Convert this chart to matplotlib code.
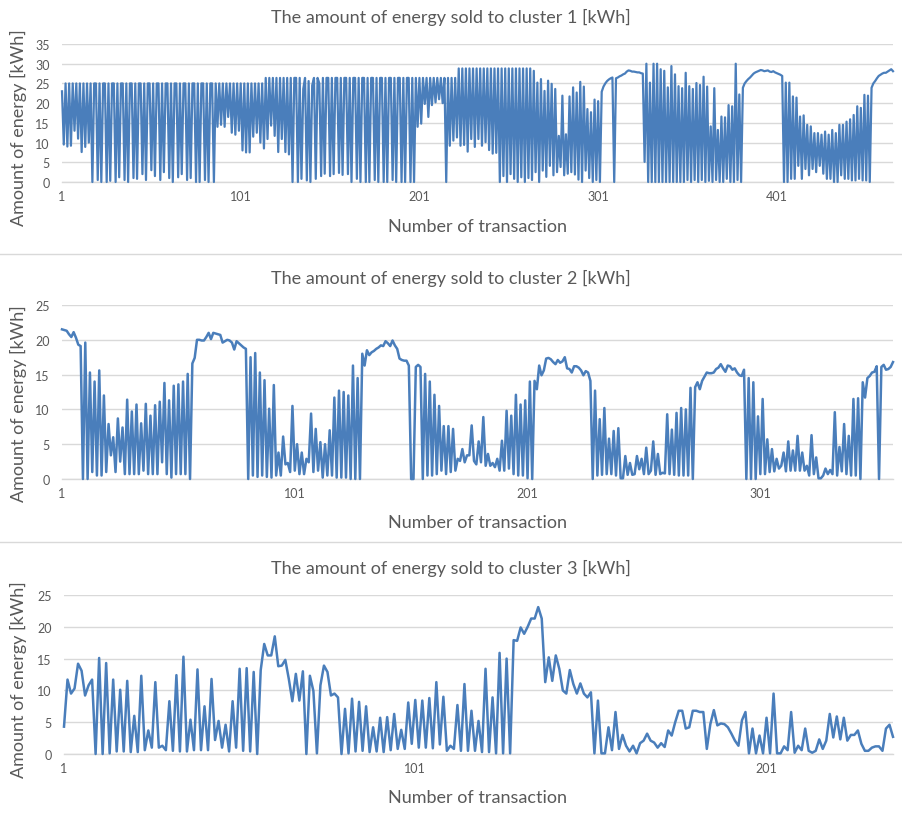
import matplotlib
matplotlib.use("Agg")
import matplotlib.pyplot as plt
from matplotlib.lines import Line2D
import numpy as np

plt.rcParams['font.family'] = ['Lato', 'DejaVu Sans']

titles = ["The amount of energy sold to cluster 1 [kWh]",
          "The amount of energy sold to cluster 2 [kWh]",
          "The amount of energy sold to cluster 3 [kWh]"]
xlabel = "Number of transaction"
ylabel = "Amount of energy [kWh]"

c1 = [
    23, 9.5, 25, 9, 25, 9.2, 25, 13, 25, 11, 25, 7.6, 25, 8.9, 25, 10,
    25, 0, 25, 25, 0.5, 25, 0, 25, 25, 0, 25, 0.3, 25, 25, 0, 25, 1.2, 25, 25, 0.5,
    25, 0, 25, 25, 1, 25, 0.8, 25, 25, 2, 25, 0.5, 25, 25, 3, 25, 1.5, 25, 25, 0.5,
    25, 2.5, 25, 25, 1, 25, 0, 25, 25, 1.2, 25, 2, 25, 25, 0.5, 25, 1, 25, 25, 0,
    25, 0, 25, 25, 0.5, 25, 0, 25, 25, 0,
    25, 14, 25, 14.5, 25, 14, 25, 16.5, 25, 12.5, 25, 12, 25, 13, 25, 8, 25, 7.5,
    25, 7.5, 25, 11.5, 25, 12.5, 25, 10, 25, 8.5, 26.4, 10.9, 26.4, 14.3, 26.4, 11.7,
    26.4, 7.6, 26.4, 10.9, 26.4, 7.6, 26.4, 7, 26.4,
    0, 26.4, 26.4, 0, 26.4, 0.8, 23.6, 26.4, 0.4, 25.6, 0, 24.5, 26.4, 0.8, 26.4, 25,
    1.5, 26.4, 2.1, 26.4, 26.4, 1.5, 26.4, 2, 26.4, 26.4, 2.3, 26.4, 1.8, 26.4, 26.4,
    2, 26.4, 0, 26.4, 26.4, 0.8, 26.4, 0, 26.4, 26.4, 0, 26.4, 0, 26.4, 26.4, 0.5,
    26.4, 0, 26.4, 26.4, 0, 26.4, 0, 26.4, 26.4, 0.5, 26.4, 0, 26.4, 26.4, 0, 26.4,
    0, 26.4, 26.4, 0, 26.4, 0,
    26.4, 14, 26.4, 14.8, 26.4, 19.8, 26.4, 16.5, 26.4, 19.5, 26.4, 20.2, 26.4, 21,
    26.4, 20, 26.4, 0,
    26.4, 9.2, 26.4, 10.5, 26.4, 11.3, 28.8, 9.2, 28.8, 9.4, 28.8, 7.7, 28.8, 10.9,
    28.8, 8.9, 28.8, 10.9, 28.8, 9.2, 28.8, 10.1, 28.8, 8.1, 28.8, 7.2, 28.8, 7.4, 28.8,
    0, 28.8, 1.5, 28.8, 0, 28.8, 2, 28.8, 0.8, 28.8, 0, 28.8, 1.2, 28.8, 0, 28.8,
    1, 28.8, 0.5, 28.2,
    2.5, 25.2, 0, 26.1, 2.9, 23.1, 1.3, 25.7, 4.1, 24.9, 1.7, 23.6, 2.5, 11.7, 3.8,
    21.9, 1.7, 12.1, 2.1, 21.7, 2.5, 24, 1.9, 22.7, 0.6, 25.4, 0, 24.2, 2.9, 18.5, 1,
    17.7, 0, 20.9, 0.5, 20.5, 0,
    22.9, 24.2, 25, 25.6, 26, 26.3, 26.5, 0, 26.3, 26.5, 26.8, 27, 27.3, 27.5, 28,
    28.3, 28.2, 28, 28, 27.9, 27.8, 27.8, 27.6, 27.5, 5.1,
    30, 0, 25.2, 0, 30, 0, 30, 0, 28.6, 0, 28.2, 0, 24, 0, 29.4, 0, 27.3, 0, 24.3, 0,
    23.8, 0, 27.7, 0.5, 24.3, 0, 23.6, 0.5, 25.1, 0, 24.6, 0.5, 26.7, 0, 24.2, 0.3,
    14.1, 0, 23.8, 0.5, 13.2, 0, 16.6, 0, 16.4, 0.8, 19.5, 0, 19.2, 0, 30, 0.5, 22.2, 0,
    23.9, 25, 25.6, 26.1, 26.5, 27, 27.5, 27.8, 28, 28.2, 28.4, 28.3, 28.1, 28.2, 28.3,
    28, 27.9, 28.1, 27.8, 27.6, 27.4, 27.2, 26.9,
    0, 25.2, 0, 25.2, 0.8, 21.7, 0.8, 21.4, 4.1, 16.6, 0.8, 16.9, 3.3, 14.5, 1.7, 14.1,
    3.3, 12.4, 2.5, 12.4, 4.1, 12, 2.1, 12.8, 0.8, 12, 0.8, 13.2, 0, 12.4, 0, 14.5,
    1.7, 14.5, 0.8, 15.3, 0.8, 15.9, 0.4, 17, 0.4, 19.2, 0.8, 18.8, 0.4, 22.1, 0.4,
    21.9, 0,
    23.9, 25, 25.6, 26.3, 26.9, 27.2, 27.5, 27.7, 27.7, 28, 28.3, 28.6, 28.1,
]

c2 = [
    21.5, 21.4, 21.3, 20.8, 20.4, 21.1, 20.3, 19.3, 19.1,
    0, 19.6, 0, 15.3, 1, 14, 0.5, 15.6, 0.5, 12, 1, 7.9, 3.4, 6, 1, 8.7, 2.5, 7.4,
    0.7, 11.4, 0.7, 9.7, 0.7, 10.7, 0.7, 8, 1.2, 10.8, 0.7, 9.1, 0.7, 10.6, 0.7, 11.1,
    2.4, 13.8, 0.7, 11.3, 0.2, 13.4, 0.7, 13.6, 0.7, 14, 0.7, 15.1, 0,
    16.6, 17.4, 20, 20, 19.9, 19.9, 20.4, 21, 20.1, 21, 20.9, 20.8, 20.7, 19.6, 19.8,
    20, 19.9, 19.6, 18.6, 19.8, 19.5, 19.2, 18.9, 18.7,
    0, 17.5, 0.5, 18.1, 0.3, 15.3, 0.5, 14.2, 0.3, 10.1,
    0.2, 13.5, 0.5, 3.8, 0.5, 6.1, 2.1, 2.3, 1, 10.5, 1.2, 5, 0.7, 3.8, 0.7, 2.9, 2.4,
    9.4, 1, 7.2, 1.2, 5.3, 0.2, 5, 0.5, 7, 0.5, 11.7, 0.2, 12.7, 0.2, 12.5, 0.2, 12,
    0, 16.3, 0, 14.5, 0,
    18, 16.3, 18.5, 17.8, 18.2, 18.4, 18.7, 18.9, 19.2, 19.1, 19.8, 19.5, 19.1, 19.9,
    19.2, 18.7, 17.3, 17.1, 17, 17, 16.3,
    0, 0, 16.1, 16.4, 16.1, 0, 15.1, 0.5, 14, 0.5, 12.1, 0.7, 10.5, 1.2, 7.6, 0.7, 7.6,
    1, 7.2, 1.2, 2.9, 2.6, 4.3, 2.4, 3.4, 3.4, 7.7, 2.6, 2.1, 5.4, 2.4, 8.9, 1.9,
    3.6, 1.9, 2.3, 1.7, 2.9, 1.2, 5.5, 1.2, 9.8, 1.5, 9.1, 0.7, 12.1, 0.5, 10.7, 0.5,
    11.3, 0.1, 14, 0,
    14.1, 12.9, 16.3, 14.9, 15.6, 17.3, 17.4, 17.2, 16.8, 16.5, 17.1, 16.7, 16.9, 17.5,
    15.9, 15.8, 15.3, 16.2, 16.2, 16, 15.6, 14.9, 15.5, 15.3, 14.1,
    0, 12.7, 0.5, 8.6, 0.6, 10.2, 0.7, 5.8, 0.7, 6.9, 0.5, 7.3, 0.1, 0.1, 3.3, 0.6,
    2.3, 0.6, 0.7, 3.3, 1.4, 2.9, 0.7, 4.5, 0.7, 1.2, 5.4, 0.6, 3.6, 0.7, 0.9, 0.8,
    9.3, 0.7, 7.1, 0.6, 9.5, 0.5, 10.2, 0.5, 10, 0.5, 13.1,
    0, 13.2, 13.9, 12.9, 14.1, 14.7, 15.3, 15.2, 15.2, 15.3, 15.8, 16, 16.5, 15.9,
    15.4, 16.3, 16.2, 15.7, 15.9, 15.3, 14.9, 14.8, 15.7,
    0, 14.5, 0, 13.9, 0, 9, 0.7, 11.5, 0.7, 5.7, 1, 4.3, 1.1, 2.9, 1.5, 1.9, 3.8, 1.1,
    5.4, 1.2, 4.1, 1.2, 6.2, 1.2, 3.8, 1.2, 1.9, 0.5, 6.3, 0.7, 3.1, 0.1, 0.1, 0.5,
    1.5, 0.7, 1.3, 0.7, 9.6, 0.5, 4.6, 1.1, 7.9, 0.7, 6.2, 0.5, 11.5, 0.5, 11.6, 0,
    13.9, 11.7, 14.5, 14.8, 15.3, 15.4, 16.2, 0, 16.1, 16.4, 15.7, 15.8, 16.1, 16.8,
]

c3 = [
    4.3, 11.7, 9.5, 10.3, 14.2, 13.1, 9.2, 10.8, 11.7, 0, 15.1, 0, 14.3, 0.1, 11.7,
    0.4, 10.1, 0.4, 11.5, 0.3, 6, 0.3, 12.3, 0.6, 3.7, 1, 11.3, 1, 1.3, 0.6, 8.3, 0.5,
    12.4, 0.4, 15.3, 0.4, 5.4, 0.6, 13.3, 0.6, 7.5, 0.6, 11.8, 2.2, 5.2, 1, 4.6, 0.4,
    8.3, 1, 13.4, 0.5, 13.5, 0.4, 12.9, 0, 13.2, 17.3, 15.5, 15.5, 18.5, 13.8, 13.9,
    14.8, 11.8, 8.3, 12.6, 8.4, 13, 0, 12.3,
    9.9, 0.1, 10.8, 13.9, 12.9, 9.2, 9.5, 8.9, 0, 7.1, 0.1, 8.7, 0.4, 8.2, 0.5, 7.5,
    0.3, 4.2, 0.4, 5.7, 0.3, 5.8, 0.6, 6.3, 0.8, 3.8, 0.8, 8.1, 1.6, 8.5, 1, 8.4, 1,
    8.8, 0.9, 11.3, 1.5, 9, 0.5, 1.3, 0.8, 7.7, 0.5, 11, 0.5, 6.8, 0.5, 5.2, 0.3, 13.4,
    0.3, 8.9, 0.1, 15.9, 0.1, 15, 0.1, 17.9, 17.8, 19.9, 18.9, 20, 21.3, 21.3, 23.1,
    21.3, 11.3, 15.2, 11.5, 15.5, 13.4, 10, 9.5, 13.2, 11, 9.5, 11.1, 9.5, 8.9, 9.7,
    0.1, 8.4, 0.1, 0.1, 4.2,
    0.6, 6.6, 0.8, 3, 1.3, 0.4, 1.3, 0.1, 1.7, 2.1, 3.2, 2.1, 1.8, 1, 1.7, 1.1, 3.7,
    2.9, 5, 6.8, 6.8, 4, 4.2, 6.8, 6.8, 6.6, 6.6, 0.8, 4.7, 6.9, 4.5, 4.8, 4.7, 4.2,
    3.2, 2.1, 1.3, 5.3, 6.6, 0.1, 4, 0.1, 2.9, 0.1, 5.7, 0.1, 9.5, 0.1, 0.1, 1.2, 0.6,
    6.6, 0.2, 1.3, 0.6, 4, 0.5, 0.2, 0.5, 2.3, 0.8, 2.1, 6.3, 2.6, 5.9, 2.3, 5.7, 2.1,
    3, 3, 3.7, 1.6, 0.5, 0.5, 1, 1.2, 1.2, 0.5, 4, 4.6, 2.7,
]

series = [c1, c2, c3]
y_max = [35, 25, 25]
x_ticks = [[1, 101, 201, 301, 401], [1, 101, 201, 301], [1, 101, 201]]

W, H = 902, 820
fig = plt.figure(figsize=(W / 100, H / 100), dpi=100)
fig.patch.set_facecolor('white')


def rect(l, r, t, b):
    return [l / W, 1 - b / H, (r - l) / W, (b - t) / H]


axes_px = [(62, 893, 45, 183), (62, 893, 306, 480), (64, 893, 596, 755)]
title_y = [17, 278, 568]
xlabel_y = [227, 523, 798]
ylabel_y = [128, 404, 680]
line_w = [1.6, 1.8, 1.8]
line_color = '#4A7EBB'
text_color = '#595959'
grid_color = '#D9D9D9'

for i, data in enumerate(series):
    ax = fig.add_axes(rect(*axes_px[i]))
    x = np.arange(1, len(data) + 1)
    ax.plot(x, data, color=line_color, lw=line_w[i], solid_joinstyle='round',
            clip_on=False, zorder=3)
    ax.set_xlim(1, len(data))
    ax.set_ylim(0, y_max[i])
    ax.set_yticks(range(0, y_max[i] + 1, 5))
    ax.set_xticks(x_ticks[i])
    ax.grid(axis='y', color=grid_color, lw=1.0)
    ax.set_axisbelow(True)
    for s in ['top', 'right', 'left']:
        ax.spines[s].set_visible(False)
    ax.spines['bottom'].set_color(grid_color)
    ax.spines['bottom'].set_linewidth(1.0)
    ax.tick_params(axis='both', length=0, labelsize=9, colors=text_color)
    ax.tick_params(axis='y', pad=9)
    ax.tick_params(axis='x', pad=6)
    fig.text(451 / W, 1 - title_y[i] / H, titles[i], ha='center', va='center',
             fontsize=13, color=text_color)
    fig.text(477 / W, 1 - xlabel_y[i] / H, xlabel, ha='center', va='center',
             fontsize=13, color=text_color)
    fig.text(18 / W, 1 - ylabel_y[i] / H, ylabel, ha='center', va='center',
             rotation=90, fontsize=13, color=text_color)

for yy in [255, 543]:
    fig.add_artist(Line2D([0, 1], [1 - yy / H, 1 - yy / H], color=grid_color,
                          lw=1.0, transform=fig.transFigure))

fig.savefig('out.png', dpi=100, facecolor='white')
